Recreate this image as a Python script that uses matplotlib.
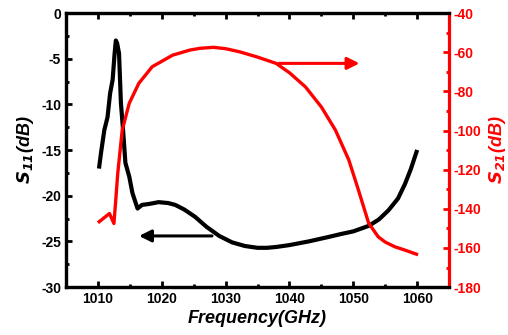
import numpy as np
import matplotlib.pyplot as plt
from matplotlib.ticker import MultipleLocator

plt.rcParams['font.family'] = ['Liberation Sans', 'DejaVu Sans']
plt.rcParams['font.weight'] = 'bold'
plt.rcParams['axes.unicode_minus'] = False

# S11 (black, left axis)
freq_s11 = [1010.2, 1010.5, 1011.0, 1011.5, 1011.9, 1012.3, 1012.6, 1012.8, 1013.0,
            1013.3, 1013.6, 1013.9, 1014.3, 1014.9, 1015.4, 1016.2, 1016.9, 1018.0,
            1019.5, 1021.0, 1022.1, 1023.5, 1025.2, 1027.0, 1029.0, 1031.0,
            1033.0, 1035.0, 1036.5, 1038.0, 1040.0, 1043.0, 1046.2, 1048.0, 1050.0,
            1052.4, 1054.0, 1055.5, 1057.0, 1058.1, 1059.0, 1059.9]
s11 = [-16.8, -15.2, -12.8, -11.4, -8.8, -7.3, -4.5, -3.0, -3.3,
       -4.4, -9.9, -12.5, -16.4, -17.9, -19.7, -21.4, -21.0, -20.9,
       -20.7, -20.8, -21.0, -21.5, -22.3, -23.4, -24.4, -25.1,
       -25.5, -25.7, -25.7, -25.6, -25.4, -25.0, -24.5, -24.2, -23.9,
       -23.3, -22.6, -21.6, -20.3, -18.7, -17.1, -15.2]

# S21 (red, right axis)
freq_s21 = [1010.2, 1011.0, 1011.8, 1012.5, 1012.8, 1013.1, 1013.8, 1014.9, 1016.4,
            1018.5, 1021.7, 1024.4, 1026.0, 1028.1, 1030.0, 1032.2, 1035.0, 1037.9,
            1040.0, 1042.5, 1045.0, 1047.2, 1049.3, 1050.8, 1052.4, 1053.9, 1055.0,
            1056.5, 1058.0, 1059.9]
s21 = [-146.6, -144.5, -142.4, -147.5, -135.0, -121.9, -99.8, -86.1, -75.9,
       -67.4, -61.5, -58.9, -58.0, -57.5, -58.2, -59.8, -62.5, -65.7,
       -70.5, -77.7, -88.0, -99.8, -115.1, -130.4, -147.3, -154.3, -157.0,
       -159.4, -161.0, -163.2]

fig, ax = plt.subplots(figsize=(5.08, 3.35), dpi=100)
fig.subplots_adjust(left=0.13, right=0.884, top=0.961, bottom=0.143)
ax2 = ax.twinx()

ax.plot(freq_s11, s11, color='black', lw=3)
ax2.plot(freq_s21, s21, color='red', lw=2.4)

ax.set_xlim(1005, 1065)
ax.set_ylim(-30, 0)
ax2.set_ylim(-180, -40)

ax.xaxis.set_major_locator(MultipleLocator(10))
ax.xaxis.set_minor_locator(MultipleLocator(5))
ax.yaxis.set_major_locator(MultipleLocator(5))
ax.yaxis.set_minor_locator(MultipleLocator(2.5))
ax2.yaxis.set_major_locator(MultipleLocator(20))
ax2.yaxis.set_minor_locator(MultipleLocator(10))

for a in (ax, ax2):
    for s in a.spines.values():
        s.set_linewidth(2.3)
ax2.spines['right'].set_color('red')
ax.spines['right'].set_visible(False)

ax.tick_params(axis='both', which='both', direction='in', width=2, labelsize=10)
ax.tick_params(which='major', length=4)
ax.tick_params(which='minor', length=2.5)
ax.tick_params(axis='x', top=True, which='both')
ax2.tick_params(axis='y', which='both', direction='in', width=2, colors='red',
                labelsize=10)
ax2.tick_params(which='major', length=4)
ax2.tick_params(which='minor', length=2.5)
for lab in ax.get_xticklabels() + ax.get_yticklabels() + ax2.get_yticklabels():
    lab.set_fontweight('bold')

ax.set_xlabel('Frequency(GHz)', fontsize=13, fontweight='bold', style='italic',
              labelpad=3)
ax.set_ylabel(r'$\mathbfit{S}_{\mathbfit{11}}$' + '(dB)', fontsize=13,
              fontweight='bold', style='italic')
ax2.set_ylabel(r'$\mathbfit{S}_{\mathbfit{21}}$' + '(dB)', fontsize=13,
               fontweight='bold', style='italic', color='red')

ax.annotate('', xy=(1016.0, -24.4), xytext=(1028.3, -24.4),
            arrowprops=dict(arrowstyle='-|>', color='black', lw=2.2,
                            mutation_scale=18))
ax2.annotate('', xy=(1051.4, -65.7), xytext=(1037.9, -65.7),
             arrowprops=dict(arrowstyle='-|>', color='red', lw=2.2,
                             mutation_scale=18))

plt.savefig('out.png', dpi=100)
